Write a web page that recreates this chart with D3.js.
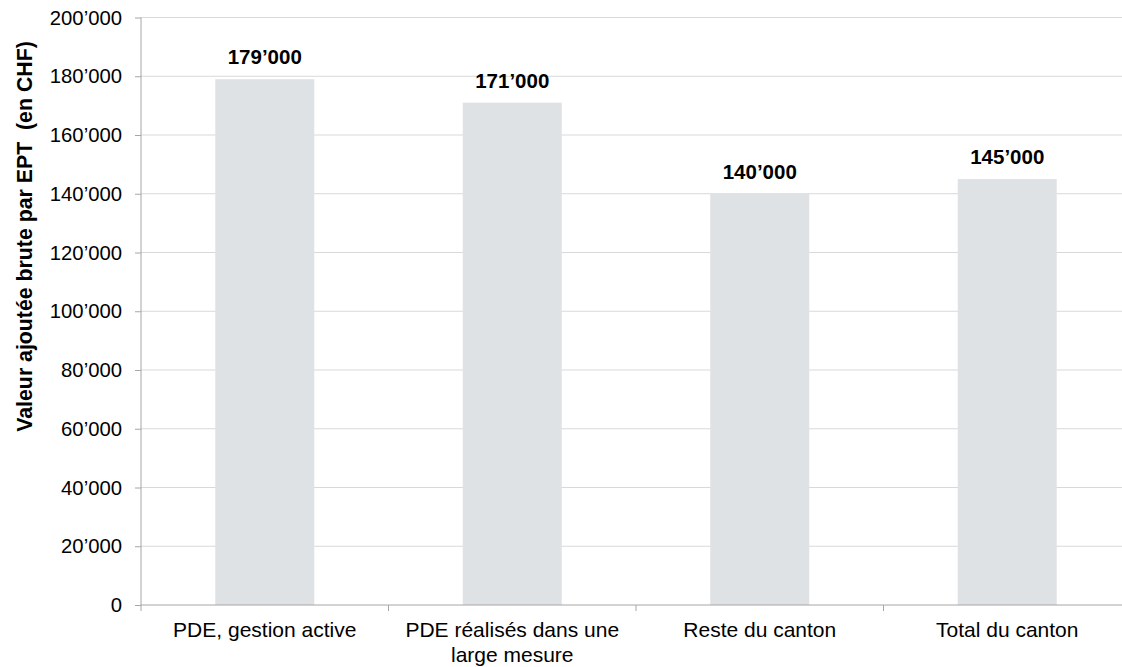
<!DOCTYPE html>
<html><head><meta charset="utf-8">
<script src="https://cdn.jsdelivr.net/npm/d3@7"></script>
<style>body{margin:0;background:#fff}svg{display:block;font-family:"Liberation Sans",Arial,sans-serif}</style>
</head><body>
<svg id="c" width="1122" height="667"></svg>
<script>
const categories = [["PDE, gestion active"], ["PDE réalisés dans une", "large mesure"], ["Reste du canton"], ["Total du canton"]];
const values = [179000, 171000, 140000, 145000];
const yTicks = [0, 20000, 40000, 60000, 80000, 100000, 120000, 140000, 160000, 180000, 200000];
const yTitle = "Valeur ajoutée brute par EPT  (en CHF)";

const svg = d3.select("#c");
const fmt = v => d3.format(",")(v).replace(/,/g, "’");
const x = d3.scaleBand().domain(d3.range(categories.length)).range([141, 1131]).paddingInner(0.6).paddingOuter(0.3);
const y = d3.scaleLinear().domain([0, 200000]).range([605, 17.5]);

// gridlines
svg.append("g").selectAll("line").data(yTicks.filter(d => d > 0)).join("line")
  .attr("x1", 141).attr("x2", 1131).attr("y1", d => y(d)).attr("y2", d => y(d))
  .attr("stroke", "#d9d9d9").attr("stroke-width", 1);

// bars
svg.append("g").selectAll("rect").data(values).join("rect")
  .attr("x", (d, i) => x(i)).attr("width", x.bandwidth())
  .attr("y", d => y(d)).attr("height", d => y(0) - y(d)).attr("fill", "#dfe2e5");

// value labels
svg.append("g").selectAll("text").data(values).join("text")
  .attr("x", (d, i) => x(i) + x.bandwidth() / 2).attr("y", d => y(d) - 15)
  .attr("text-anchor", "middle").attr("font-weight", "bold").attr("font-size", 20.5).attr("fill", "#000")
  .text(d => fmt(d));

// y axis
const ya = svg.append("g").attr("transform", "translate(141,0)")
  .call(d3.axisLeft(y).tickValues(yTicks).tickSize(6).tickPadding(13).tickFormat(fmt));
ya.select(".domain").attr("stroke", "#a6a6a6").attr("d", "M0,17.5V605");
ya.selectAll(".tick line").attr("stroke", "#a6a6a6");
ya.selectAll(".tick text").attr("font-size", 20.3).attr("fill", "#000").attr("font-family", "Liberation Sans, Arial, sans-serif");

// x axis
const xa = svg.append("g").attr("transform", "translate(0,605)");
xa.append("line").attr("x1", 141).attr("x2", 1131).attr("stroke", "#a6a6a6");
const bounds = d3.range(categories.length + 1).map(i => 141 + i * x.step());
xa.selectAll(".tk").data(bounds).join("line").attr("class", "tk")
  .attr("x1", d => d).attr("x2", d => d).attr("y1", 0).attr("y2", 6).attr("stroke", "#a6a6a6");
const lab = xa.selectAll(".lab").data(categories).join("text").attr("class", "lab")
  .attr("text-anchor", "middle").attr("font-size", 21).attr("fill", "#000");
lab.each(function (d, i) {
  const t = d3.select(this);
  d.forEach((s, j) => t.append("tspan").attr("x", x(i) + x.bandwidth() / 2).attr("y", 32 + j * 25).text(s));
});

// y title
svg.append("text").attr("transform", `translate(32,236.5) rotate(-90)`)
  .attr("text-anchor", "middle").attr("font-weight", "bold").attr("font-size", 21.3).attr("fill", "#000")
  .style("white-space", "pre").text(yTitle);
</script>
</body></html>
